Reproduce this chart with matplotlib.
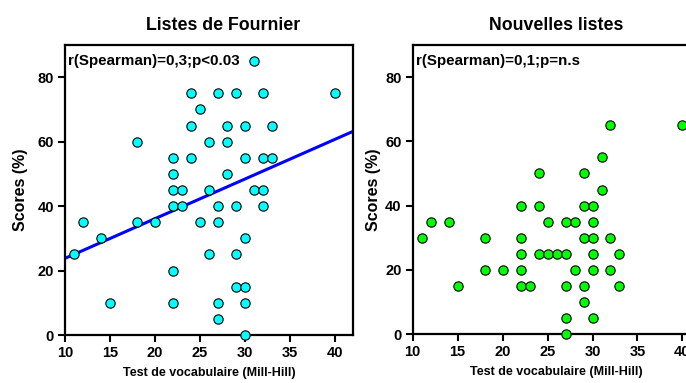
import matplotlib
matplotlib.use("Agg")
import matplotlib.pyplot as plt
import numpy as np

plt.rcParams['font.family'] = ['Liberation Sans', 'DejaVu Sans']
plt.rcParams['font.weight'] = 'bold'

# Listes de Fournier
fournier_x = [31, 24, 27, 29, 32, 40, 25, 24, 28, 30, 33, 18, 26, 28, 22, 24, 30, 32, 33,
              22, 28, 22, 23, 26, 31, 32, 22, 23, 27, 29, 32, 12, 18, 20, 25, 27, 14, 30,
              11, 26, 29, 22, 29, 30, 15, 22, 27, 30, 27, 30]
fournier_y = [85, 75, 75, 75, 75, 75, 70, 65, 65, 65, 65, 60, 60, 60, 55, 55, 55, 55, 55,
              50, 50, 45, 45, 45, 45, 45, 40, 40, 40, 40, 40, 35, 35, 35, 35, 35, 30, 30,
              25, 25, 25, 20, 15, 15, 10, 10, 10, 10, 5, 0]
fournier_fit = (11.5, 1.23)  # intercept, slope

# Nouvelles listes
nouv_x = [32, 40, 31, 24, 29, 31, 22, 24, 29, 30, 12, 14, 25, 27, 28, 30, 11, 18, 22, 29,
          30, 32, 22, 24, 25, 26, 27, 30, 33, 18, 20, 22, 28, 30, 32, 15, 22, 23, 27, 29,
          33, 29, 27, 30, 27]
nouv_y = [65, 65, 55, 50, 50, 45, 40, 40, 40, 40, 35, 35, 35, 35, 35, 35, 30, 30, 30, 30,
          30, 30, 25, 25, 25, 25, 25, 25, 25, 20, 20, 20, 20, 20, 20, 15, 15, 15, 15, 15,
          15, 10, 5, 5, 0]

titles = ["Listes de Fournier", "Nouvelles listes"]
notes = ["r(Spearman)=0,3;p<0.03", "r(Spearman)=0,1;p=n.s"]
xticks = [10, 15, 20, 25, 30, 35, 40]
yticks = [0, 20, 40, 60, 80]

fig = plt.figure(figsize=(6.86, 3.83), dpi=100)
ax1 = fig.add_axes([0.0948, 0.1253, 0.4194, 0.7572])
ax2 = fig.add_axes([0.6016, 0.1279, 0.4194, 0.7546])

def style(ax, title, note, ylab_x, title_x):
    ax.set_xlim(10, 42)
    ax.set_ylim(0, 90)
    ax.set_xticks(xticks)
    ax.set_yticks(yticks)
    for s in ax.spines.values():
        s.set_linewidth(1.6)
    ax.tick_params(direction='out', length=5, width=1.5, labelsize=10.5, pad=3)
    ax.set_title(title, fontsize=12.8, fontweight='bold', pad=11, x=title_x)
    ax.set_xlabel("Test de vocabulaire (Mill-Hill)", fontsize=9, fontweight='bold', labelpad=5)
    ax.set_ylabel("Scores (%)", fontsize=11.5, fontweight='bold')
    ax.yaxis.set_label_coords(ylab_x, 0.5)
    ax.text(0.012, 0.945, note, transform=ax.transAxes, fontsize=10.9, fontweight='bold',
            ha='left', va='center')

xs = np.array([10, 42])
ax1.plot(xs, fournier_fit[0] + fournier_fit[1] * xs, color='#0000ff', lw=2.2, zorder=2)
ax1.scatter(fournier_x, fournier_y, s=45, c='#00ffff', edgecolors='black', linewidths=0.8,
            zorder=3, clip_on=False)
style(ax1, titles[0], notes[0], -0.129, 0.55)

ax2.scatter(nouv_x, nouv_y, s=45, c='#00ff00', edgecolors='black', linewidths=0.8,
            zorder=3, clip_on=False)
style(ax2, titles[1], notes[1], -0.11, 0.5)

fig.savefig("out.png", dpi=100)
